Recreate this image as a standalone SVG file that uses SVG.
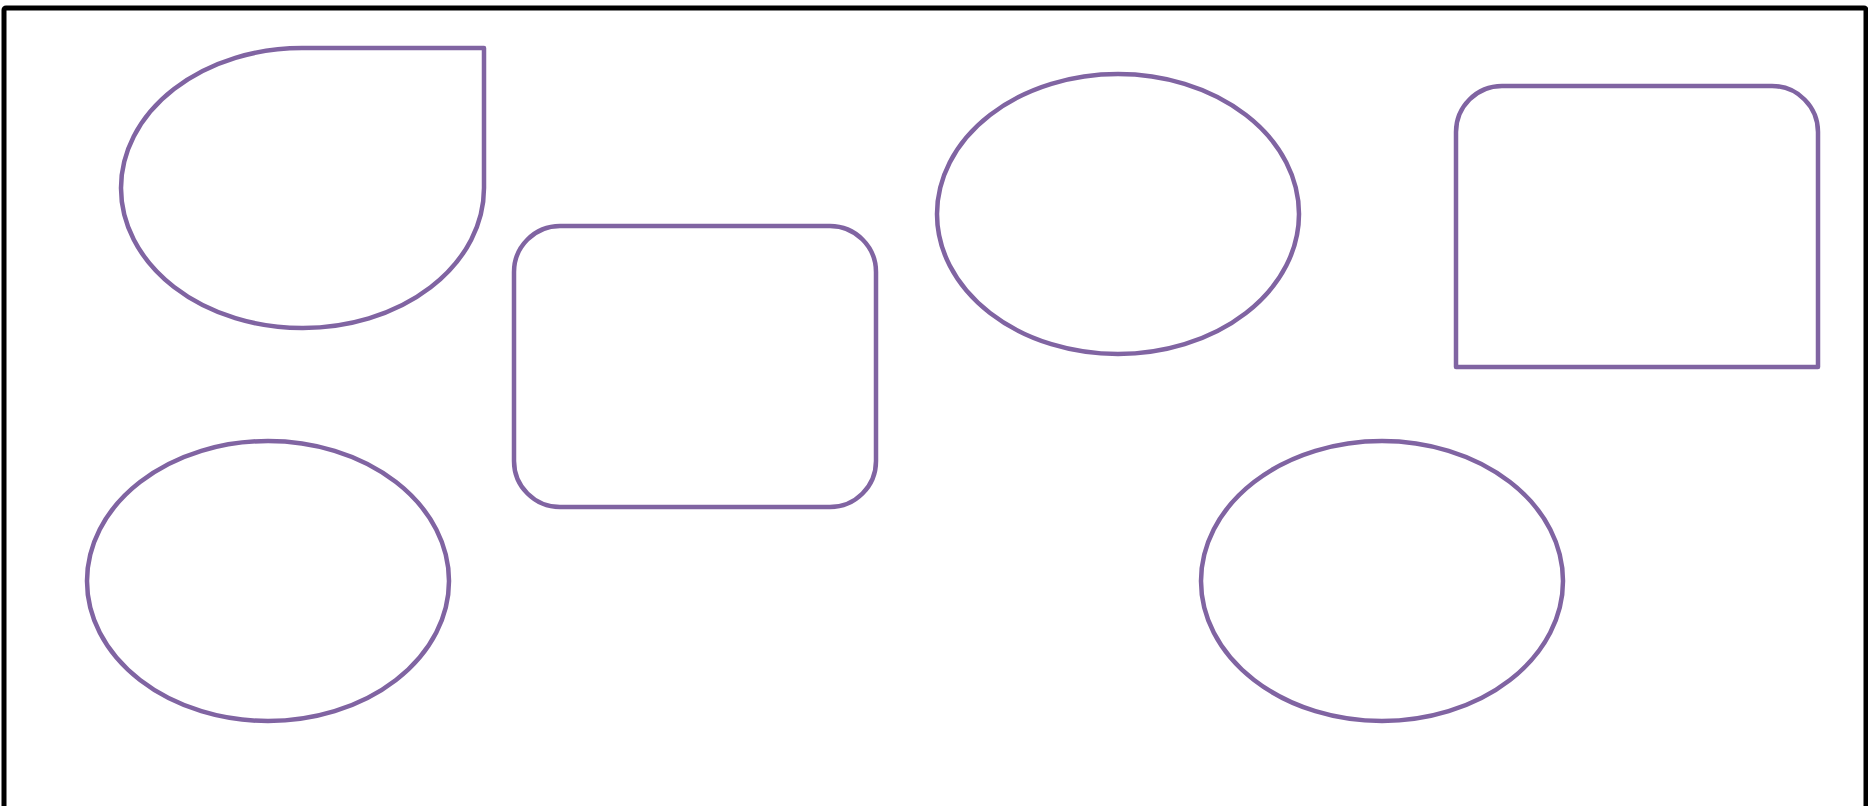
<svg xmlns="http://www.w3.org/2000/svg" width="1868" height="806" viewBox="0 0 1868 806">
<style>
.frame{fill:#ffffff;stroke:#000000;stroke-width:5;stroke-linejoin:round}
.shape{fill:#ffffff;stroke:#8064a2;stroke-width:4.5;stroke-linejoin:round}
</style>
<rect class="frame" x="4" y="8" width="1862" height="812" rx="2"/>
<g id="connectors"></g>
<g id="node-teardrop">
<path class="shape" d="M121,188 A181,140 0 0 1 302,48 L484,48 L484,188 A181,140 0 0 1 302,328 A181,140 0 0 1 121,188 Z"/>
</g>
<g id="node-roundrect">
<rect class="shape" x="514" y="226" width="362" height="281" rx="46" ry="46"/>
</g>
<g id="node-ellipse-top">
<ellipse class="shape" cx="1118" cy="214" rx="181" ry="140"/>
</g>
<g id="node-roundtop">
<path class="shape" d="M1456,367 L1456,132 A46,46 0 0 1 1502,86 L1772,86 A46,46 0 0 1 1818,132 L1818,367 Z"/>
</g>
<g id="node-ellipse-bl">
<ellipse class="shape" cx="268" cy="581" rx="181" ry="140"/>
</g>
<g id="node-ellipse-br">
<ellipse class="shape" cx="1382" cy="581" rx="181" ry="140"/>
</g>
</svg>
